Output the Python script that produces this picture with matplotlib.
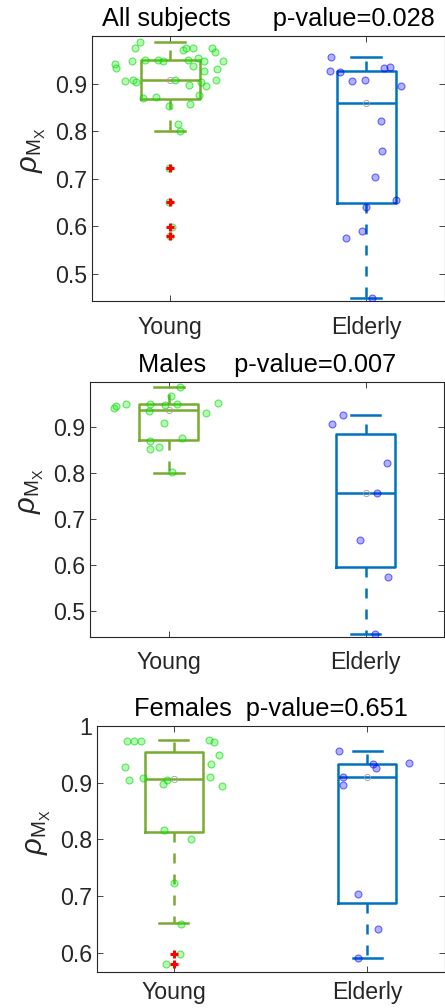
import matplotlib
matplotlib.use("Agg")
import matplotlib.pyplot as plt
from matplotlib.ticker import FuncFormatter

plt.rcParams['font.family'] = ['Liberation Sans', 'DejaVu Sans']
plt.rcParams['mathtext.fontset'] = 'custom'
plt.rcParams['mathtext.rm'] = 'Liberation Sans'
plt.rcParams['mathtext.it'] = 'Liberation Sans:italic'

groups = ['Young', 'Elderly']
titles = ['All subjects      p-value=0.028',
          'Males    p-value=0.007',
          'Females  p-value=0.651']
ylabel = r'$\rho_{\mathrm{M}_{\mathrm{X}}}$'

# --- All subjects ---
all_young = [0.988, 0.974, 0.971, 0.975, 0.975, 0.974, 0.967, 0.942, 0.933, 0.948,
             0.950, 0.950, 0.948, 0.950, 0.954, 0.947, 0.947, 0.937, 0.927, 0.930,
             0.906, 0.908, 0.903, 0.908, 0.903, 0.908, 0.897, 0.894, 0.876, 0.870,
             0.872, 0.857, 0.852, 0.815, 0.800, 0.722, 0.650, 0.598, 0.579]
all_young_jit = [-0.152, -0.181, 0.064, 0.081, 0.117, 0.212, 0.227, -0.281, -0.276, -0.193,
                 -0.130, -0.063, -0.036, 0.091, 0.140, 0.174, 0.272, 0.118, 0.174, 0.239,
                 -0.232, -0.191, -0.173, 0.025, 0.157, 0.235, 0.095, 0.183, 0.147, -0.139,
                 -0.070, 0.102, -0.004, 0.042, 0.049, -0.007, -0.006, 0.009, -0.002]
all_elderly = [0.956, 0.927, 0.925, 0.906, 0.908, 0.932, 0.935, 0.895,
               0.822, 0.758, 0.703, 0.655, 0.641, 0.589, 0.575, 0.448]
all_elderly_jit = [-0.181, -0.186, -0.134, -0.070, -0.005, 0.090, 0.120, 0.176,
                   0.075, 0.083, 0.047, 0.154, -0.002, -0.019, -0.105, 0.029]

# --- Males ---
m_young = [0.989, 0.969, 0.942, 0.946, 0.951, 0.952, 0.937, 0.950, 0.951,
           0.931, 0.954, 0.909, 0.871, 0.876, 0.853, 0.858, 0.802]
m_young_jit = [0.056, 0.012, -0.280, -0.266, -0.219, -0.096, -0.101, -0.017, 0.042,
               0.187, 0.248, -0.022, -0.093, 0.068, -0.093, -0.052, 0.015]
m_elderly = [0.928, 0.907, 0.822, 0.757, 0.655, 0.575, 0.449]
m_elderly_jit = [-0.115, -0.172, 0.108, 0.057, -0.030, 0.113, 0.047]

# --- Females ---
f_young = [0.974, 0.974, 0.974, 0.975, 0.971, 0.949, 0.933, 0.928, 0.904, 0.908,
           0.898, 0.905, 0.909, 0.894, 0.817, 0.801, 0.723, 0.651, 0.598, 0.580]
f_young_jit = [-0.245, -0.207, -0.173, 0.180, 0.207, 0.235, 0.190, -0.254, -0.235, -0.159,
               -0.055, -0.035, 0.187, 0.247, -0.052, 0.088, 0.002, 0.035, 0.031, -0.043]
f_elderly = [0.956, 0.933, 0.925, 0.935, 0.909, 0.895, 0.703, 0.642, 0.590]
f_elderly_jit = [-0.147, 0.029, 0.048, 0.216, -0.123, -0.123, -0.048, 0.054, -0.050]

# box stats: q1, median, q3, lower whisker, upper whisker
box_stats = [
    [[0.867, 0.908, 0.950, 0.800, 0.987], [0.649, 0.858, 0.926, 0.448, 0.956]],
    [[0.872, 0.939, 0.951, 0.801, 0.989], [0.596, 0.757, 0.885, 0.449, 0.928]],
    [[0.812, 0.906, 0.954, 0.652, 0.975], [0.688, 0.909, 0.933, 0.590, 0.956]],
]
outliers = [
    [[0.722, 0.650, 0.598, 0.579], []],
    [[], []],
    [[0.598, 0.580], []],
]

points = [
    [(all_young, all_young_jit), (all_elderly, all_elderly_jit)],
    [(m_young, m_young_jit), (m_elderly, m_elderly_jit)],
    [(f_young, f_young_jit), (f_elderly, f_elderly_jit)],
]
ylims = [(0.4425, 1.0), (0.4425, 1.0), (0.5656, 1.0)]
yticks = [[0.5, 0.6, 0.7, 0.8, 0.9], [0.5, 0.6, 0.7, 0.8, 0.9], [0.6, 0.7, 0.8, 0.9, 1.0]]

box_colors = ['#77AC30', '#0072BD']
pt_face = [(0, 1, 0, 0.3), (0, 0, 1, 0.3)]
pt_edge = [(0, 0.8, 0, 0.55), (0, 0, 1, 0.55)]

positions = [
    [0.2061, 0.7014, 0.7928, 0.2629],
    [0.2022, 0.3678, 0.7966, 0.2536],
    [0.2173, 0.0354, 0.7816, 0.2446],
]
xpads = [11, 10, 6]

fig = plt.figure(figsize=(4.45, 10.08), dpi=100)
dark = '#262626'

for k in range(3):
    ax = fig.add_axes(positions[k])
    for g in range(2):
        q1, med, q3, lo, hi = box_stats[k][g]
        st = dict(med=med, q1=q1, q3=q3, whislo=lo, whishi=hi, fliers=outliers[k][g])
        c = box_colors[g]
        ax.bxp([st], positions=[g + 1], widths=0.3, capwidths=0.15,
               boxprops=dict(color=c, lw=1.8),
               medianprops=dict(color=c, lw=1.8),
               whiskerprops=dict(color=c, lw=1.8, linestyle=(0, (4.0, 4.4))),
               capprops=dict(color=c, lw=1.8),
               flierprops=dict(marker='+', markeredgecolor='red', markersize=6,
                               markeredgewidth=2.2, linestyle='none', zorder=5),
               manage_ticks=False)
        vals, jit = points[k][g]
        xs = [g + 1 + j for j in jit]
        ax.scatter(xs, vals, s=25, facecolor=pt_face[g], edgecolor=pt_edge[g],
                   linewidth=0.8, zorder=3)
        ax.plot([g + 1], [med], marker='o', markersize=4.5, markerfacecolor='none',
                markeredgecolor='#a0a0a0', markeredgewidth=0.6, zorder=6)
    ax.set_xlim(0.6, 2.4)
    ax.set_ylim(*ylims[k])
    ax.set_xticks([1, 2])
    ax.set_xticklabels(groups)
    ax.set_yticks(yticks[k])
    ax.yaxis.set_major_formatter(FuncFormatter(lambda v, p: '%g' % round(v, 2)))
    ax.tick_params(direction='in', top=True, right=True, length=4, width=0.6,
                   labelsize=16.7, colors=dark, labelcolor=dark)
    ax.tick_params(axis='x', pad=xpads[k])
    for s in ax.spines.values():
        s.set_color(dark)
        s.set_linewidth(0.8)
    ax.set_title(titles[k], fontsize=18.3, pad=7)
    ax.set_ylabel(ylabel, fontsize=21, color=dark)
    ax.yaxis.set_label_coords(-0.125, 0.57)

fig.savefig('out.png', dpi=100)
